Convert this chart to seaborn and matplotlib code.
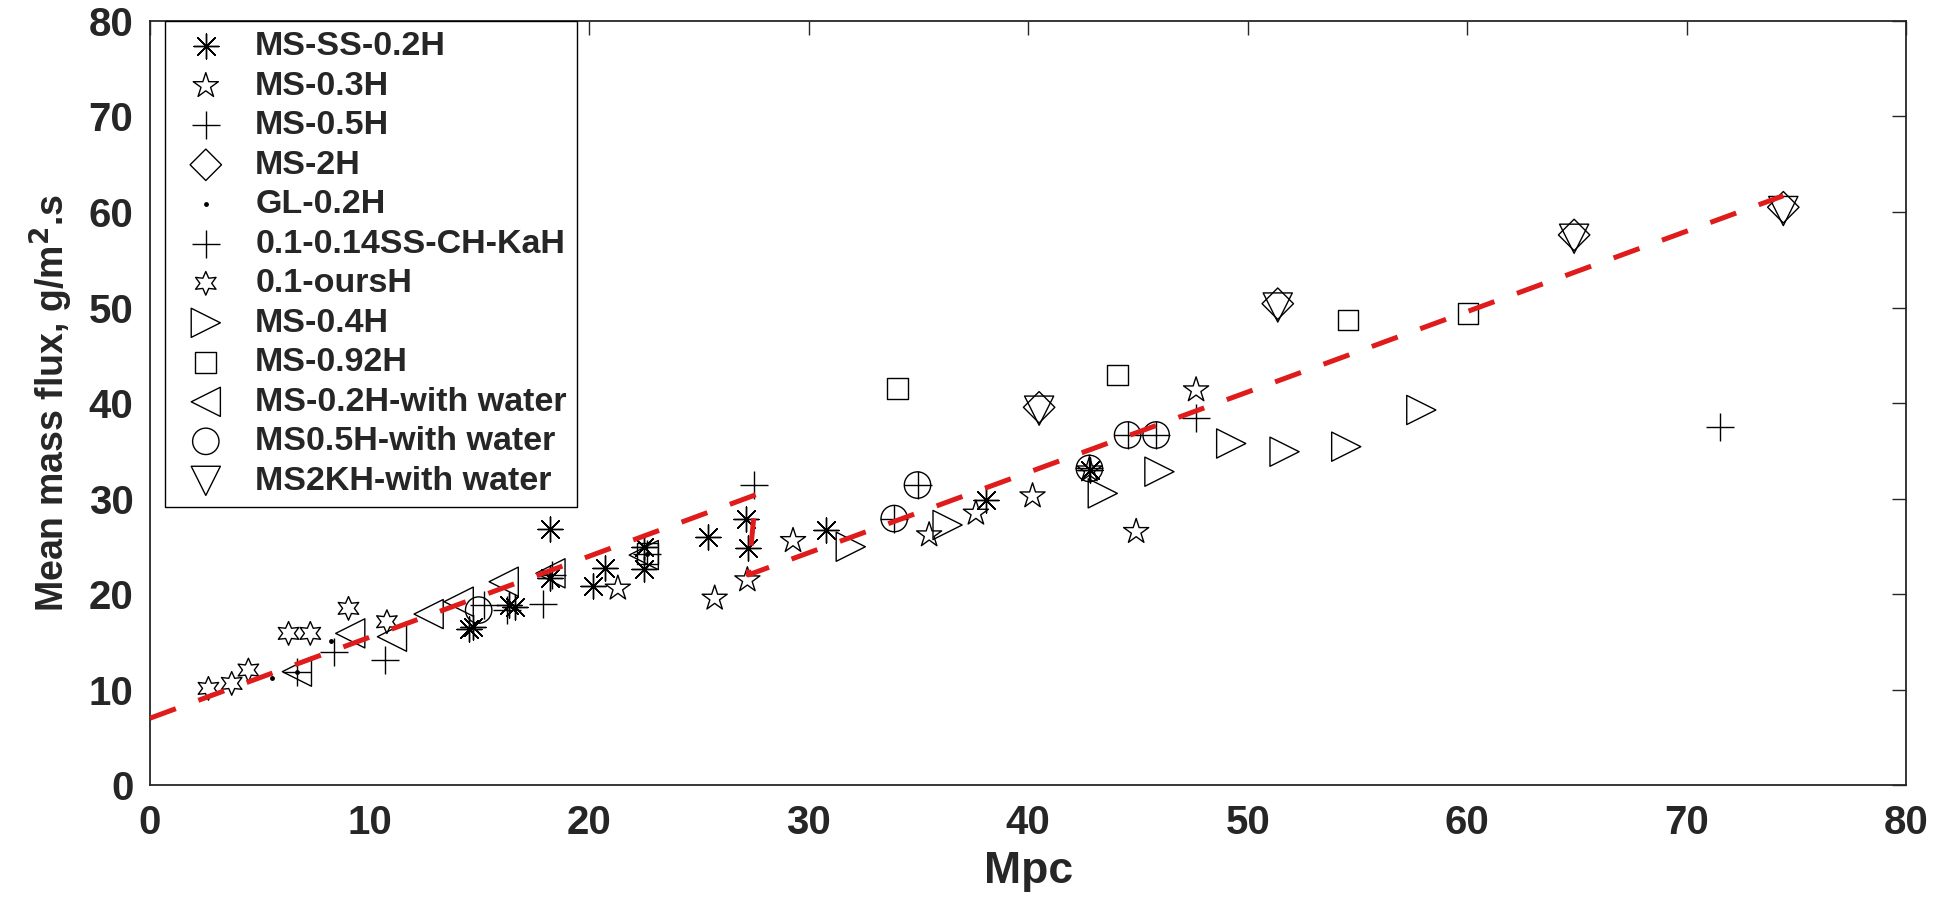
import matplotlib
matplotlib.use("Agg")
import matplotlib.pyplot as plt
import seaborn as sns
import numpy as np
import pandas as pd

# series (x = Mpc, y = mean mass flux)
ms_ss_02h_x = [14.55, 14.7, 16.34, 16.64, 18.21, 18.24, 20.17, 20.72, 22.49, 22.49, 25.41, 27.16, 27.24, 30.78, 38.07, 42.8]
ms_ss_02h_y = [16.34, 16.6, 18.85, 18.67, 26.77, 21.64, 20.84, 22.69, 24.95, 22.59, 26.0, 27.85, 24.79, 26.7, 29.84, 33.0]

ms_03h_x = [21.31, 25.72, 27.21, 29.29, 35.49, 37.62, 40.2, 42.79, 44.92, 47.65]
ms_03h_y = [20.6, 19.55, 21.47, 25.58, 26.18, 28.45, 30.26, 32.98, 26.53, 41.36]

ms_05h_x = [8.36, 10.72, 27.51, 34.96, 44.53, 45.83, 47.65, 71.52]
ms_05h_y = [13.96, 13.14, 31.41, 31.41, 36.65, 36.65, 38.4, 37.52]

ms_2h_x = [40.5, 51.37, 64.87, 74.4]
ms_2h_y = [39.55, 50.4, 57.6, 60.5]

gl_02h_x = [5.55, 6.69, 8.24, 16.34, 18.24, 20.72, 22.65, 27.16, 27.24]
gl_02h_y = [11.24, 11.87, 15.11, 18.95, 21.99, 22.69, 24.24, 27.85, 24.79]

kah_x = [6.69, 15.2, 16.26, 17.9, 18.32, 22.65, 33.9, 42.79]
kah_y = [11.87, 18.85, 18.32, 18.95, 21.99, 24.24, 27.9, 33.15]

ours_x = [2.66, 3.72, 4.48, 6.31, 7.3, 9.04, 10.79]
ours_y = [10.12, 10.64, 12.04, 15.88, 15.88, 18.5, 17.1]

ms_04h_x = [31.92, 36.33, 43.4, 45.98, 49.25, 51.68, 54.49, 57.91]
ms_04h_y = [24.95, 27.23, 30.54, 32.81, 35.76, 34.9, 35.43, 39.27]

ms_092h_x = [22.65, 34.05, 44.08, 54.57, 60.04]
ms_092h_y = [24.24, 41.54, 42.93, 48.69, 49.39]

ms_02h_w_x = [6.69, 9.12, 11.02, 12.69, 14.06, 16.11, 18.24, 22.49]
ms_02h_w_y = [11.87, 15.88, 15.53, 17.9, 19.2, 21.29, 22.17, 24.08]

ms05h_w_x = [14.97, 33.9, 34.96, 42.79, 44.53, 45.83]
ms05h_w_y = [18.32, 27.9, 31.41, 33.15, 36.65, 36.65]

ms2kh_w_x = [40.5, 51.37, 64.87, 74.4]
ms2kh_w_y = [39.2, 50.0, 57.2, 60.1]

fit_x = [0, 27.6, 27.25, 74.4]
fit_y = [7.0, 30.4, 22.0, 61.7]

labels = ["MS-SS-0.2H", "MS-0.3H", "MS-0.5H", "MS-2H", "GL-0.2H", "0.1-0.14SS-CH-KaH",
          "0.1-oursH", "MS-0.4H", "MS-0.92H", "MS-0.2H-with water", "MS0.5H-with water",
          "MS2KH-with water"]
xs = [ms_ss_02h_x, ms_03h_x, ms_05h_x, ms_2h_x, gl_02h_x, kah_x, ours_x, ms_04h_x,
      ms_092h_x, ms_02h_w_x, ms05h_w_x, ms2kh_w_x]
ys = [ms_ss_02h_y, ms_03h_y, ms_05h_y, ms_2h_y, gl_02h_y, kah_y, ours_y, ms_04h_y,
      ms_092h_y, ms_02h_w_y, ms05h_w_y, ms2kh_w_y]

# marker, size (pt), hollow or not
markers = [((8, 2, 0), 18, False), ("*", 19, True), ("+", 20, False), ("D", 16, True),
           (".", 7, None), ("+", 20, False), ((6, 1, 0), 17, True), (">", 21, True),
           ("s", 15, True), ("<", 21, True), ("o", 19, True), ("v", 21, True)]

sns.set_theme(style="white")
plt.rcParams["font.family"] = ["Liberation Sans", "DejaVu Sans"]
plt.rcParams["font.weight"] = "bold"
plt.rcParams["axes.labelweight"] = "bold"

fig = plt.figure(figsize=(19.41, 9.01), dpi=100)
ax = fig.add_axes([0.0773, 0.1287, 0.9048, 0.848])

for lab, x, y, (m, ms, fill) in zip(labels, xs, ys, markers):
    df = pd.DataFrame({"x": x, "y": y})
    if fill is None:
        sns.scatterplot(data=df, x="x", y="y", marker=m, s=ms**2, color="black",
                        edgecolor="black", linewidth=0, ax=ax, label=lab, zorder=3)
    elif fill:
        sns.scatterplot(data=df, x="x", y="y", marker=m, s=ms**2, color="black",
                        facecolor="none", edgecolor="black", linewidth=1.0, ax=ax,
                        label=lab, zorder=3)
    else:
        sns.scatterplot(data=df, x="x", y="y", marker=m, s=ms**2, color="black",
                        linewidth=1.0, ax=ax, label=lab, zorder=3)

ax.plot(fit_x, fit_y, color="#e01b1b", lw=3.6, dashes=(5.5, 4.8), zorder=4)

ax.set_xlim(0, 80)
ax.set_ylim(0, 80)
ax.set_xticks(np.arange(0, 81, 10))
ax.set_yticks(np.arange(0, 81, 10))
ax.tick_params(direction="in", top=True, right=True, length=10, width=1,
               labelsize=29, colors="#262626")
ax.tick_params(axis="x", pad=14)
ax.tick_params(axis="y", pad=12)
for sp in ax.spines.values():
    sp.set_linewidth(1.3)
    sp.set_color("#262626")

ax.set_xlabel("Mpc", fontsize=32, fontweight="bold", labelpad=6)
ax.set_ylabel("Mean mass flux, g/m$^\\mathbf{2}$.s", fontsize=27, fontweight="bold", labelpad=10)

leg = ax.legend(loc="upper left", bbox_to_anchor=(0.0085, 1.0), borderaxespad=0,
                fancybox=False, edgecolor="black", framealpha=1,
                prop={"size": 24.5, "weight": "bold"}, labelspacing=0.25,
                handletextpad=0.55, handlelength=1.8, borderpad=0.3)
leg.get_frame().set_linewidth(1.0)

fig.savefig("out.png", dpi=100)
